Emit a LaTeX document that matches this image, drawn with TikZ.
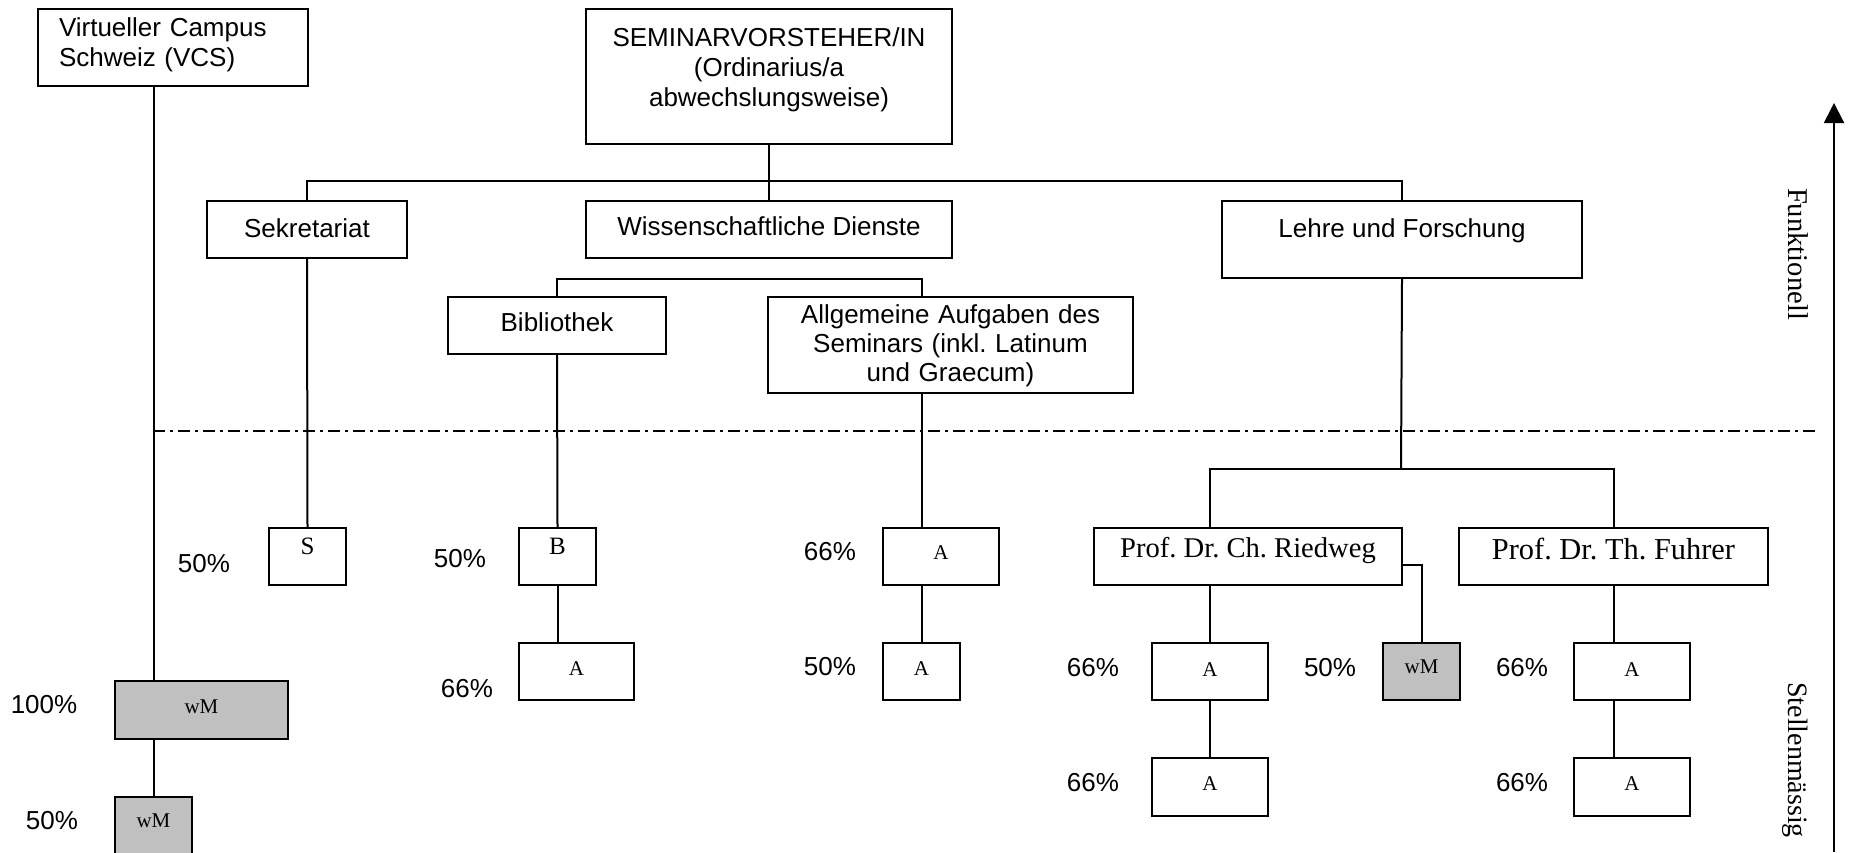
\documentclass[tikz,border=0pt]{standalone}
\usepackage{fontspec}
\setmainfont{Liberation Serif}
\newfontfamily\arialfont{Liberation Sans}
\usetikzlibrary{arrows.meta}
\definecolor{wmgray}{RGB}{192,192,192}
\frenchspacing

\begin{document}
\begin{tikzpicture}[x=0.5pt,y=-0.5pt,line width=1pt,
   box/.style={draw,inner sep=0pt,anchor=north west,font=\arialfont\fontsize{13}{15}\selectfont},
   post/.style={draw,inner sep=0pt,anchor=north west,font=\fontsize{10.5}{12}\selectfont},
   wm/.style={post,fill=wmgray},
   pct/.style={anchor=base,inner sep=0pt,font=\arialfont\fontsize{13}{15}\selectfont},
   sep/.style={line width=0.8pt,dash pattern=on 6pt off 2.5pt on 1.5pt off 2.5pt}]
   \useasboundingbox[fill=white] (0,0) rectangle (1850,852);

   % funktionell
   \node[box,text width=114pt,inner xsep=10.5pt,align=left,text height=13.5pt,text depth=25pt] (vcs) at (37,8) {Virtueller Campus\\Schweiz (VCS)};
   \node[box,text width=183pt,align=center,text height=18.5pt,text depth=49pt] (sem) at (585,8) {SEMINARVORSTEHER/IN\\(Ordinarius/a\\abwechslungsweise)};
   \node[box,minimum width=100pt,text height=18pt,text depth=10.5pt] (sek) at (206,200) {Sekretariat};
   \node[box,minimum width=183pt,text height=17pt,text depth=11.5pt] (wd) at (585,200) {Wissenschaftliche Dienste};
   \node[box,minimum width=180pt,text height=18pt,text depth=20.5pt] (lf) at (1221,200) {Lehre und Forschung};
   \node[box,minimum width=109pt,text height=17pt,text depth=11.5pt] (bib) at (447,296) {Bibliothek};
   \node[box,text width=182.5pt,align=center,text height=13pt,text depth=35pt,font=\arialfont\fontsize{13}{14.5}\selectfont] (allg) at (767,296) {Allgemeine Aufgaben des\\Seminars (inkl. Latinum\\und Graecum)};

   % stellenmaessig
   \node[post,minimum width=38.5pt,text height=13pt,text depth=15.5pt,font=\fontsize{12.5}{14}\selectfont] (s) at (268,527) {S};
   \node[post,minimum width=38.5pt,text height=13pt,text depth=15.5pt,font=\fontsize{12.5}{14}\selectfont] (b) at (518,527) {B};
   \node[post,minimum width=57.5pt,text height=16pt,text depth=12.5pt] (ba) at (518,642) {A};
   \node[wm,minimum width=86.5pt,text height=16pt,text depth=13pt] (wm1) at (114,680) {wM};
   \node[wm,minimum width=38.5pt,text height=15pt,text depth=22pt] (wm2) at (114,796) {wM};
   \node[post,minimum width=58pt,text height=15.5pt,text depth=13pt] (aa1) at (882,527) {A};
   \node[post,minimum width=38.5pt,text height=16pt,text depth=12.5pt] (aa2) at (882,642) {A};
   \node[post,minimum width=154pt,text height=14.5pt,text depth=14pt,font=\fontsize{14.3}{16}\selectfont] (rw) at (1093,527) {Prof. Dr. Ch. Riedweg};
   \node[post,minimum width=154.5pt,text height=15.5pt,text depth=13pt,font=\fontsize{15.2}{17}\selectfont] (fu) at (1458,527) {Prof. Dr. Th. Fuhrer};
   \node[post,minimum width=58pt,text height=16.5pt,text depth=12pt] (ra1) at (1151,642) {A};
   \node[post,minimum width=58pt,text height=16pt,text depth=13pt] (ra2) at (1151,757) {A};
   \node[wm,minimum width=38.5pt,text height=15pt,text depth=13.5pt] (rwm) at (1382,642) {wM};
   \node[post,minimum width=58pt,text height=16.5pt,text depth=12pt] (fa1) at (1573,642) {A};
   \node[post,minimum width=58pt,text height=16pt,text depth=13pt] (fa2) at (1573,757) {A};

   \node[pct] (ps) at (204,572) {50\%};
   \node[pct] (pb) at (460,567) {50\%};
   \node[pct] (pba) at (467,697) {66\%};
   \node[pct] (pw1) at (44,713) {100\%};
   \node[pct] (pw2) at (52,829) {50\%};
   \node[pct] (paa1) at (830,560) {66\%};
   \node[pct] (paa2) at (830,675) {50\%};
   \node[pct] (pra1) at (1093,676) {66\%};
   \node[pct] (pra2) at (1093,791) {66\%};
   \node[pct] (prwm) at (1330,676) {50\%};
   \node[pct] (pfa1) at (1522,676) {66\%};
   \node[pct] (pfa2) at (1522,791) {66\%};

   \node[rotate=-90,font=\fontsize{14.3}{16}\selectfont] (funk) at (1798,254) {Funktionell};
   \node[rotate=-90,font=\fontsize{14}{16}\selectfont] (stell) at (1795,760) {Stellenmässig};

   \coordinate (bus) at (768,181);
   \coordinate (lfbus) at (1401,469);
   \coordinate (sepl) at (153,431);
   \coordinate (sepr) at (1818,431);
   \coordinate (axlow) at (1834,852);
   \coordinate (axhigh) at (1834,103);

   \draw (sem.south) -- (wd.north);
   \draw (sek.north) |- (bus) -| (lf.north);
   \draw (bib.north) |- ([yshift=-10pt]wd.south) -| (allg.north -| aa2.north);
   \draw (vcs.south -| wm2.north) -- (wm1.north -| wm2.north);
   \draw (wm1.south -| wm2.north) -- (wm2.north);
   \draw (sek.south) -- (s.north);
   \draw (bib.south) -- (b.north);
   \draw (b.south) -- (b.south |- ba.north);
   \draw (allg.south -| aa2.north) -- (aa1.north -| aa2.north);
   \draw (aa1.south -| aa2.north) -- (aa2.north);
   \draw (lf.south) -- (lfbus);
   \draw (rw.north -| ra1.north) |- (lfbus) -| (fu.north);
   \draw (rw.south -| ra1.north) -- (ra1.north);
   \draw (ra1.south) -- (ra2.north);
   \draw (rw.east |- 0,565) -| (rwm.north);
   \draw (fu.south) -- (fu.south |- fa1.north);
   \draw (fa1.south -| fu.south) -- (fa2.north -| fu.south);

   \draw[sep] (sepl) -- (sepr);
   \draw[-{Triangle[width=10pt,length=10pt]}] (axlow) -- (axhigh);
\end{tikzpicture}
\end{document}
